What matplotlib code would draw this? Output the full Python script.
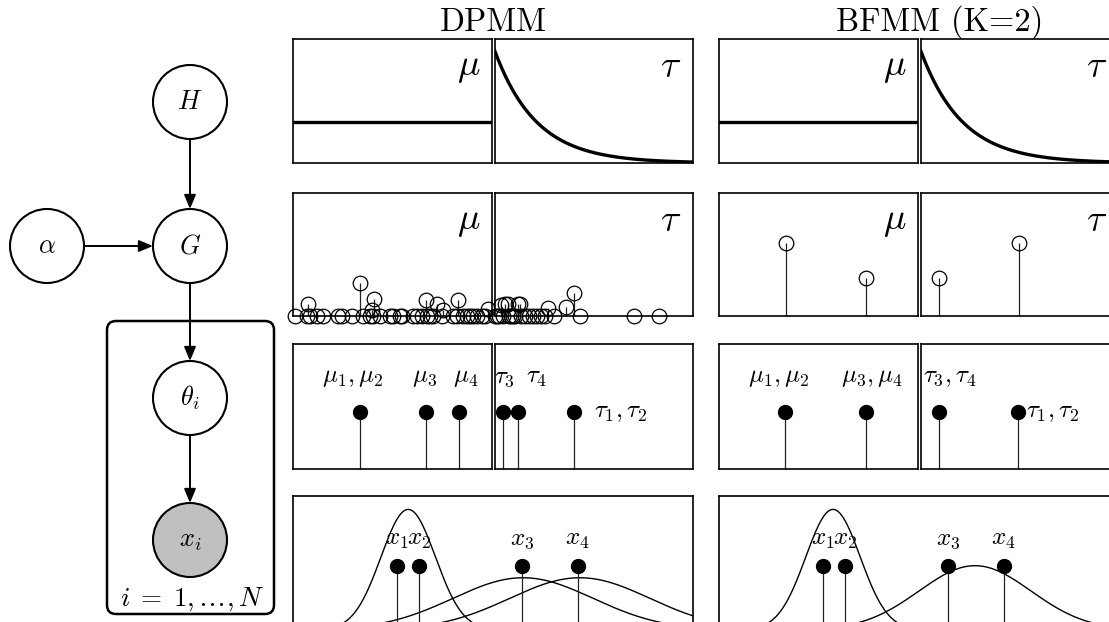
import numpy as np
import matplotlib
matplotlib.use("Agg")
import matplotlib.pyplot as plt
from matplotlib.patches import Circle, FancyBboxPatch, FancyArrowPatch

plt.rcParams['mathtext.fontset'] = 'cm'
plt.rcParams['axes.formatter.use_mathtext'] = True

W, H = 1109, 622
fig = plt.figure(figsize=(W / 100, H / 100), dpi=100)

# ---------------- data ----------------
titles = ["DPMM", "BFMM (K=2)"]

# row 1: priors (base measure)
mu_prior_level = 0.33
tau_prior_start = 0.9
tau_prior_scale = 0.21

# row 2: DPMM random measure G (atoms location / weight), in panel units
dp_mu_loc = [0.01, 0.07, 0.075, 0.085, 0.12, 0.15, 0.226, 0.245, 0.295, 0.337,
             0.352, 0.387, 0.397, 0.402, 0.407, 0.437, 0.487, 0.503, 0.538, 0.546,
             0.603, 0.622, 0.647, 0.668, 0.672, 0.688, 0.704, 0.724, 0.747, 0.754,
             0.804, 0.823, 0.829, 0.854, 0.873, 0.889, 0.905, 0.923, 0.948, 0.965, 0.98]
dp_mu_w = [0.0, 0.0, 0.10, 0.0, 0.0, 0.0, 0.0, 0.0, 0.0, 0.27,
           0.0, 0.0, 0.05, 0.0, 0.14, 0.0, 0.0, 0.0, 0.0, 0.0,
           0.0, 0.0, 0.0, 0.13, 0.0, 0.0, 0.0, 0.10, 0.0, 0.05,
           0.0, 0.0, 0.13, 0.0, 0.0, 0.0, 0.0, 0.0, 0.0, 0.0, 0.06]
dp_tau_loc = [0.0, 0.01, 0.02, 0.03, 0.04, 0.05, 0.066, 0.07, 0.08, 0.09,
              0.10, 0.116, 0.126, 0.13, 0.15, 0.17, 0.19, 0.21, 0.23, 0.25,
              0.27, 0.30, 0.36, 0.40, 0.43, 0.70, 0.83]
dp_tau_w = [0.0, 0.0, 0.0, 0.09, 0.0, 0.10, 0.10, 0.0, 0.0, 0.0,
            0.0, 0.10, 0.10, 0.0, 0.0, 0.0, 0.0, 0.0, 0.0, 0.0,
            0.065, 0.0, 0.07, 0.19, 0.0, 0.0, 0.0]

# row 2: BFMM (K=2)
bf_mu_loc = [0.337, 0.74]
bf_mu_w = [0.59, 0.31]
bf_tau_loc = [0.09, 0.495]
bf_tau_w = [0.31, 0.59]

# row 3: per-observation parameters
dp_theta_mu = [0.337, 0.668, 0.834]
dp_theta_tau = [0.04, 0.116, 0.399]
bf_theta_mu = [0.33, 0.74]
bf_theta_tau = [0.09, 0.49]
theta_level = 0.46

# row 4: observations and component densities (x axis 0..10)
obs_x = [2.6, 3.15, 5.72, 7.12]
obs_labels = [r"$x_1$", r"$x_2$", r"$x_3$", r"$x_4$"]
dp_comp_mean = [2.88, 5.75, 7.17]
dp_comp_sd = [0.68, 1.75, 1.75]
dp_comp_peak = [0.90, 0.39, 0.39]
bf_comp_mean = [2.85, 6.4]
bf_comp_sd = [0.68, 1.4]
bf_comp_peak = [0.90, 0.48]
obs_level = 0.478


def px_axes(x0, y0, x1, y1):
    return fig.add_axes([x0 / W, 1 - y1 / H, (x1 - x0) / W, (y1 - y0) / H])


def style(ax):
    ax.set_xticks([])
    ax.set_yticks([])
    for s in ax.spines.values():
        s.set_linewidth(1.2)
        s.set_color('black')


cols = [(293, 492, 495, 693), (719, 918, 921, 1119)]
rows = [(39, 163), (193, 316), (344, 469)]

big = 27
small = 18

axes = {}
for c, (a0, a1, b0, b1) in enumerate(cols):
    for r, (y0, y1) in enumerate(rows):
        axm = px_axes(a0, y0, a1, y1)
        axt = px_axes(b0, y0, b1, y1)
        for ax in (axm, axt):
            style(ax)
            ax.set_xlim(0, 1)
            ax.set_ylim(0, 1)
        axes[(c, r)] = (axm, axt)

# row 1
xx = np.linspace(0, 1, 300)
for c in range(2):
    axm, axt = axes[(c, 0)]
    axm.plot([0, 1], [mu_prior_level, mu_prior_level], color='black', lw=2.4)
    axt.plot(xx, tau_prior_start * np.exp(-xx / tau_prior_scale), color='black', lw=2.4)

# labels mu / tau (rows 1, 2)
for c in range(2):
    for r in range(2):
        axm, axt = axes[(c, r)]
        axm.text(0.94, 0.92, r"$\mu$", transform=axm.transAxes, ha='right', va='top', fontsize=big)
        axt.text(0.94, 0.92, r"$\tau$", transform=axt.transAxes, ha='right', va='top', fontsize=big)


def stems(ax, loc, w, filled=False):
    ax.vlines(loc, 0, w, color='#222222', lw=0.9, clip_on=False, zorder=2)
    if filled:
        ax.plot(loc, w, 'o', ms=10, color='black', clip_on=False, zorder=3)
    else:
        ax.plot(loc, w, 'o', ms=10.5, mfc='none', mec='black', mew=0.9, clip_on=False, zorder=3)


# row 2
axm, axt = axes[(0, 1)]
stems(axm, dp_mu_loc, dp_mu_w)
stems(axt, dp_tau_loc, dp_tau_w)
axm, axt = axes[(1, 1)]
stems(axm, bf_mu_loc, bf_mu_w)
stems(axt, bf_tau_loc, bf_tau_w)

# row 3
axm, axt = axes[(0, 2)]
stems(axm, dp_theta_mu, [theta_level] * 3, filled=True)
stems(axt, dp_theta_tau, [theta_level] * 3, filled=True)
axm.text(0.30, 0.64, r"$\mu_1,\mu_2$", ha='center', va='bottom', fontsize=small)
axm.text(0.66, 0.64, r"$\mu_3$", ha='center', va='bottom', fontsize=small)
axm.text(0.87, 0.64, r"$\mu_4$", ha='center', va='bottom', fontsize=small)
axt.text(0.05, 0.64, r"$\tau_3$", ha='center', va='bottom', fontsize=small)
axt.text(0.21, 0.64, r"$\tau_4$", ha='center', va='bottom', fontsize=small)
axt.text(0.50, theta_level, r"$\tau_1,\tau_2$", ha='left', va='center', fontsize=small)

axm, axt = axes[(1, 2)]
stems(axm, bf_theta_mu, [theta_level] * 2, filled=True)
stems(axt, bf_theta_tau, [theta_level] * 2, filled=True)
axm.text(0.30, 0.64, r"$\mu_1,\mu_2$", ha='center', va='bottom', fontsize=small)
axm.text(0.77, 0.64, r"$\mu_3,\mu_4$", ha='center', va='bottom', fontsize=small)
axt.text(0.01, 0.64, r"$\tau_3,\tau_4$", ha='left', va='bottom', fontsize=small)
axt.text(0.53, theta_level, r"$\tau_1,\tau_2$", ha='left', va='center', fontsize=small)

# row 4
xg = np.linspace(0, 10, 600)
for c, (means, sds, peaks) in enumerate([(dp_comp_mean, dp_comp_sd, dp_comp_peak),
                                         (bf_comp_mean, bf_comp_sd, bf_comp_peak)]):
    x0 = cols[c][0]
    ax = px_axes(x0, 496, x0 + 400, 630)
    style(ax)
    ax.set_xlim(0, 10)
    ax.set_ylim(0, 1)
    for m, s, p in zip(means, sds, peaks):
        ax.plot(xg, p * np.exp(-0.5 * ((xg - m) / s) ** 2), color='black', lw=1.0)
    stems(ax, obs_x, [obs_level] * 4, filled=True)
    for xv, lab in zip(obs_x, obs_labels):
        ax.text(xv, 0.59, lab, ha='center', va='bottom', fontsize=small)

# titles
fig.text(493 / W, 1 - 31 / H, titles[0], ha='center', va='baseline', fontsize=23.5, family='cmr10')
fig.text(940 / W, 1 - 31 / H, titles[1], ha='center', va='baseline', fontsize=23.5, family='cmr10')

# ---------------- graphical model ----------------
g = fig.add_axes([0, 0, 1, 1], zorder=-1)
g.set_xlim(0, W)
g.set_ylim(H, 0)
g.axis('off')
R = 37
nodes = {"H": (190, 102), "G": (190, 246), "a": (47, 246), "t": (190, 398), "x": (190, 540)}
labels = {"H": r"$H$", "G": r"$G$", "a": r"$\alpha$", "t": r"$\theta_i$", "x": r"$x_i$"}
for k, (cx, cy) in nodes.items():
    fc = '#c0c0c0' if k == "x" else 'white'
    g.add_patch(Circle((cx, cy), R, fc=fc, ec='black', lw=1.5, zorder=3))
    g.text(cx, cy, labels[k], ha='center', va='center', fontsize=19, zorder=4)

g.add_patch(FancyBboxPatch((107, 321), 167, 293, boxstyle="round,pad=0,rounding_size=9",
                           fc='none', ec='black', lw=1.8, zorder=2))
g.text(192, 599, r"$i\;=\;1,\ldots,N$", ha='center', va='center', fontsize=19.5, zorder=4)

edges = [("H", "G"), ("a", "G"), ("G", "t"), ("t", "x")]
for s, e in edges:
    (x1, y1), (x2, y2) = nodes[s], nodes[e]
    d = np.hypot(x2 - x1, y2 - y1)
    ux, uy = (x2 - x1) / d, (y2 - y1) / d
    arr = FancyArrowPatch((x1 + ux * R, y1 + uy * R), (x2 - ux * R, y2 - uy * R),
                          arrowstyle='-|>,head_length=0.6,head_width=0.25', mutation_scale=14,
                          color='black', lw=1.4, shrinkA=0, shrinkB=0, zorder=3)
    g.add_patch(arr)

fig.savefig("out.png", dpi=100)
